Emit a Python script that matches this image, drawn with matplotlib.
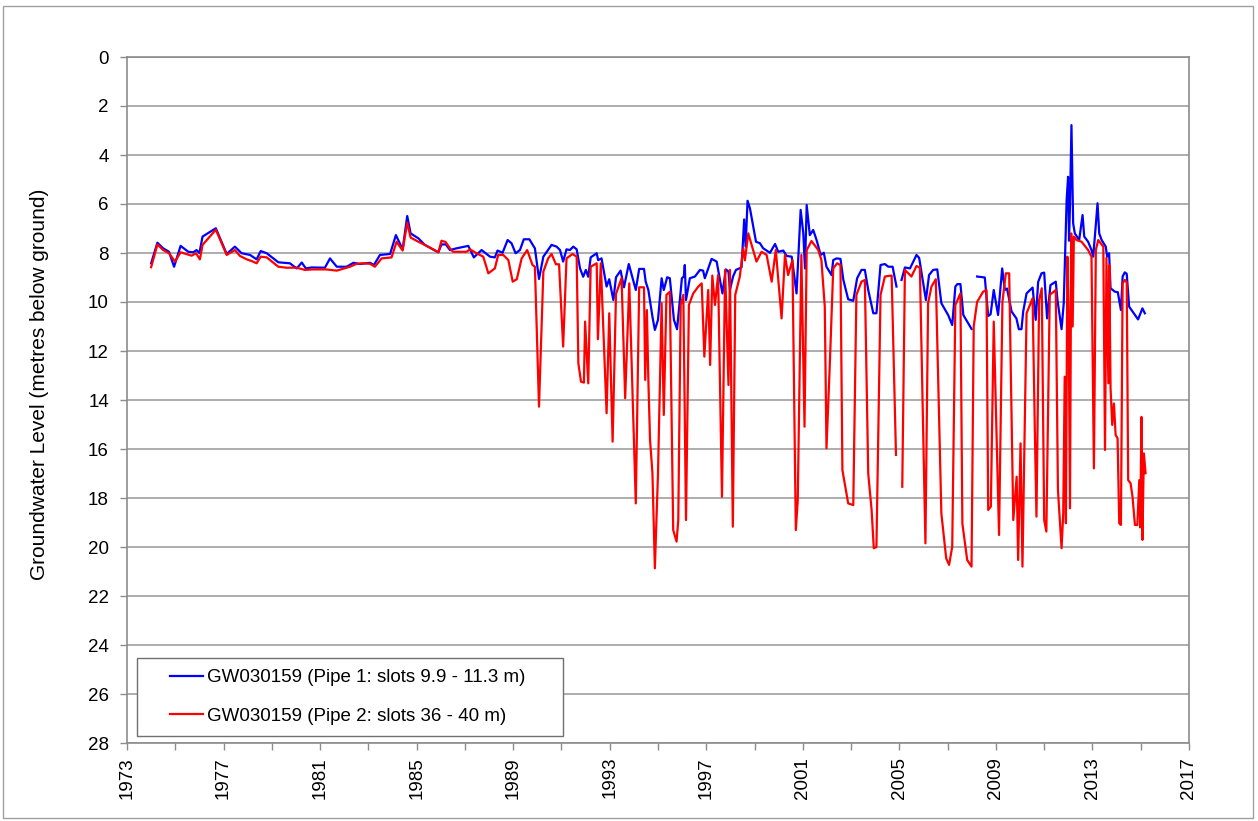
import numpy as np
import matplotlib
matplotlib.use("Agg")
import matplotlib.pyplot as plt
from matplotlib.patches import Rectangle
from matplotlib.legend_handler import HandlerLine2D

nan = np.nan

# Pipe 1 (shallow) - decimal year / metres below ground
pipe1_year = [
    1974.0, 1974.26, 1974.5, 1974.74, 1974.95, 1975.22, 1975.54, 1975.75, 1975.88, 1976.0,
    1976.13, 1976.68, 1977.13, 1977.47, 1977.75, 1978.1, 1978.37, 1978.54, 1978.79, 1979.27,
    1979.75, 1980.03, 1980.24, 1980.41, 1980.65, 1981.2, 1981.41, 1981.69, 1982.1, 1982.38,
    1982.65, 1983.07, 1983.23, 1983.48, 1983.9, 1984.14, 1984.42, 1984.61, 1984.75, 1985.07,
    1985.34, 1985.9, 1986.03, 1986.21, 1986.38, 1986.65, 1987.14, 1987.37, 1987.69, 1988.04,
    1988.24, 1988.35, 1988.56, 1988.77, 1988.93, 1989.1, 1989.28, 1989.44, 1989.67, 1989.9,
    1990.07, 1990.25, 1990.59, 1990.8, 1990.94, 1991.07, 1991.21, 1991.35, 1991.49, 1991.63,
    1991.77, 1991.9, 1992.01, 1992.11, 1992.21, 1992.46, 1992.52, 1992.66, 1992.87, 1992.98,
    1993.15, 1993.26, 1993.45, 1993.59, 1993.79, 1994.08, 1994.22, 1994.42, 1994.49, 1994.6,
    1994.77, 1994.87, 1995.0, 1995.15, 1995.24, 1995.38, 1995.49, 1995.66, 1995.79, 1995.99,
    1996.07, 1996.11, 1996.16, 1996.32, 1996.53, 1996.74, 1996.87, 1996.94, 1997.22, 1997.43,
    1997.67, 1997.81, 1997.92, 1997.98, 1998.11, 1998.23, 1998.46, 1998.57, 1998.63, 1998.71,
    1998.81, 1999.06, 1999.22, 1999.36, 1999.64, 1999.85, 1999.98, 2000.19, 2000.33, 2000.54,
    2000.74, 2000.91, 2001.02, 2001.09, 2001.16, 2001.29, 2001.43, 2001.57, 2001.74, 2001.87,
    2001.98, 2002.19, 2002.26, 2002.4, 2002.56, 2002.68, 2002.88, 2003.09, 2003.25, 2003.43,
    2003.57, 2003.71, 2003.92, 2004.05, 2004.22, 2004.4, 2004.54, 2004.72, 2004.88, 2005.0,
    2005.09, 2005.23, 2005.44, 2005.71, 2005.82, 2006.1, 2006.23, 2006.4, 2006.57, 2006.74,
    2007.02, 2007.19, 2007.32, 2007.4, 2007.53, 2007.65, 2007.85, 2007.99, 2008.1, 2008.22,
    2008.54, 2008.68, 2008.78, 2008.91, 2009.09, 2009.26, 2009.37, 2009.46, 2009.65, 2009.85,
    2009.95, 2010.06, 2010.13, 2010.27, 2010.52, 2010.65, 2010.75, 2010.89, 2011.0, 2011.12,
    2011.26, 2011.48, 2011.55, 2011.72, 2011.81, 2011.93, 2011.99, 2012.03, 2012.07, 2012.13,
    2012.2, 2012.27, 2012.45, 2012.59, 2012.66, 2012.82, 2012.96, 2013.03, 2013.1, 2013.21,
    2013.28, 2013.38, 2013.55, 2013.61, 2013.69, 2013.75, 2013.93, 2014.05, 2014.18, 2014.25,
    2014.34, 2014.42, 2014.52, 2014.89, 2014.99, 2015.07, 2015.17,
]
pipe1_level = [
    8.42, 7.58, 7.81, 7.95, 8.56, 7.71, 7.95, 7.97, 7.88, 8.0,
    7.33, 6.99, 8.04, 7.74, 8.01, 8.08, 8.26, 7.92, 8.01, 8.38,
    8.42, 8.63, 8.39, 8.63, 8.59, 8.6, 8.22, 8.56, 8.56, 8.4,
    8.45, 8.4, 8.49, 8.08, 8.04, 7.27, 7.85, 6.49, 7.2, 7.4,
    7.67, 7.97, 7.65, 7.65, 7.88, 7.81, 7.71, 8.18, 7.88, 8.15,
    8.18, 7.9, 7.99, 7.47, 7.6, 8.01, 7.88, 7.44, 7.44, 7.81,
    9.06, 8.15, 7.67, 7.74, 7.88, 8.35, 7.85, 7.88, 7.74, 7.85,
    8.63, 8.97, 8.69, 8.97, 8.18, 8.01, 8.29, 8.22, 9.37, 9.07,
    9.92, 8.99, 8.72, 9.4, 8.45, 9.51, 8.65, 8.65, 9.17, 9.51,
    10.6, 11.14, 10.73, 9.03, 9.51, 8.99, 9.03, 10.73, 11.11, 9.03,
    8.96, 8.49, 9.92, 9.03, 8.96, 8.69, 8.72, 9.03, 8.24, 8.35,
    9.65, 8.67, 8.76, 9.51, 8.96, 8.69, 8.59, 6.63, 7.74, 5.87,
    6.18, 7.54, 7.6, 7.81, 7.99, 7.63, 7.95, 7.9, 8.12, 8.15,
    9.65, 6.24, 7.2, 8.63, 6.04, 7.27, 7.06, 7.47, 8.08, 7.99,
    8.56, 8.9, 8.29, 8.22, 8.24, 9.1, 9.89, 9.95, 9.03, 8.69,
    8.69, 9.51, 10.46, 10.46, 8.49, 8.45, 8.56, 8.56, 9.37, nan,
    9.1, 8.59, 8.63, 8.08, 8.2, 9.92, 8.9, 8.69, 8.67, 10.05,
    10.53, 10.94, 9.37, 9.27, 9.27, 10.53, 10.87, 11.1, nan, 8.96,
    9.0, 10.57, 10.5, 9.51, 10.53, 8.63, 9.51, 9.45, 10.39, 10.67,
    11.11, 11.11, 10.39, 9.65, 9.41, 10.73, 9.18, 8.83, 8.8, 10.67,
    9.31, 9.17, 9.92, 11.11, 10.05, 5.84, 4.89, 7.5, 6.0, 2.78,
    6.79, 7.2, 7.47, 6.45, 7.33, 7.54, 7.88, 8.15, 7.33, 5.97,
    7.2, 7.47, 7.74, 8.15, 8.01, 9.44, 9.58, 9.6, 10.33, 8.96,
    8.79, 8.85, 10.19, 10.71, 10.46, 10.26, 10.46,
]

# Pipe 2 (deep)
pipe2_year = [
    1974.0, 1974.26, 1974.5, 1974.74, 1974.99, 1975.22, 1975.68, 1975.86, 1976.02, 1976.13,
    1976.68, 1977.13, 1977.47, 1977.68, 1977.96, 1978.17, 1978.37, 1978.54, 1978.79, 1979.27,
    1979.6, 1980.03, 1980.37, 1980.7, 1981.25, 1981.69, 1982.24, 1982.51, 1982.79, 1983.07,
    1983.27, 1983.55, 1983.96, 1984.17, 1984.42, 1984.61, 1984.75, 1985.07, 1985.34, 1985.9,
    1986.03, 1986.2, 1986.38, 1986.51, 1987.07, 1987.21, 1987.48, 1987.76, 1987.97, 1988.24,
    1988.38, 1988.59, 1988.8, 1988.98, 1989.15, 1989.35, 1989.58, 1989.8, 1989.9, 1990.07,
    1990.25, 1990.45, 1990.59, 1990.77, 1990.9, 1991.07, 1991.21, 1991.46, 1991.63, 1991.7,
    1991.81, 1991.93, 1991.98, 1992.11, 1992.21, 1992.46, 1992.51, 1992.63, 1992.87, 1992.98,
    1993.12, 1993.26, 1993.49, 1993.64, 1993.81, 1994.08, 1994.22, 1994.42, 1994.47, 1994.54,
    1994.6, 1994.67, 1994.77, 1994.87, 1995.0, 1995.15, 1995.24, 1995.35, 1995.49, 1995.63,
    1995.77, 1995.84, 1995.94, 1996.05, 1996.16, 1996.28, 1996.46, 1996.67, 1996.81, 1996.92,
    1997.08, 1997.16, 1997.25, 1997.36, 1997.49, 1997.65, 1997.78, 1997.92, 1997.98, 1998.1,
    1998.2, 1998.39, 1998.53, 1998.6, 1998.74, 1999.08, 1999.29, 1999.5, 1999.71, 1999.88,
    2000.12, 2000.26, 2000.39, 2000.57, 2000.71, 2000.79, 2000.94, 2001.07, 2001.16, 2001.36,
    2001.64, 2001.77, 2001.91, 2001.98, 2002.12, 2002.26, 2002.42, 2002.56, 2002.64, 2002.88,
    2003.09, 2003.22, 2003.43, 2003.57, 2003.71, 2003.85, 2003.94, 2004.05, 2004.22, 2004.4,
    2004.68, 2004.86, 2005.0, 2005.12, 2005.23, 2005.5, 2005.71, 2005.85, 2006.08, 2006.19,
    2006.33, 2006.51, 2006.74, 2006.94, 2007.06, 2007.19, 2007.32, 2007.53, 2007.61, 2007.81,
    2007.99, 2008.08, 2008.22, 2008.47, 2008.61, 2008.68, 2008.79, 2008.91, 2009.13, 2009.27,
    2009.41, 2009.55, 2009.72, 2009.86, 2009.92, 2010.02, 2010.1, 2010.27, 2010.52, 2010.61,
    2010.68, 2010.79, 2010.9, 2011.0, 2011.09, 2011.23, 2011.48, 2011.57, 2011.72, 2011.79,
    2011.85, 2011.9, 2011.96, 2012.01, 2012.07, 2012.12, 2012.18, 2012.23, 2012.34, 2012.55,
    2012.82, 2012.96, 2013.06, 2013.14, 2013.24, 2013.45, 2013.52, 2013.58, 2013.66, 2013.7,
    2013.75, 2013.82, 2013.89, 2013.96, 2014.04, 2014.11, 2014.18, 2014.25, 2014.34, 2014.42,
    2014.48, 2014.58, 2014.66, 2014.76, 2014.86, 2014.94, 2014.98, 2015.03, 2015.07, 2015.13,
    2015.2,
]
pipe2_level = [
    8.58, 7.65, 7.88, 8.01, 8.35, 7.97, 8.11, 8.01, 8.26, 7.67,
    7.05, 8.08, 7.88, 8.12, 8.26, 8.33, 8.42, 8.15, 8.18, 8.56,
    8.6, 8.6, 8.69, 8.67, 8.67, 8.72, 8.56, 8.44, 8.42, 8.44,
    8.56, 8.22, 8.18, 7.54, 7.9, 6.76, 7.37, 7.54, 7.67, 7.97,
    7.5, 7.55, 7.81, 7.95, 7.95, 7.85, 8.01, 8.15, 8.83, 8.63,
    8.08, 8.08, 8.29, 9.17, 9.07, 8.22, 7.88, 8.49, 8.56, 14.27,
    8.76, 8.22, 8.04, 8.46, 8.46, 11.82, 8.22, 8.04, 8.15, 12.5,
    13.25, 13.29, 10.8, 13.32, 8.56, 8.42, 11.52, 8.42, 14.54, 10.46,
    15.7, 9.67, 9.03, 13.93, 9.24, 18.22, 9.4, 9.4, 13.18, 10.33,
    13.18, 15.63, 16.99, 20.87, 17.0, 10.05, 14.61, 9.71, 9.58, 19.31,
    19.78, 18.9, 10.12, 9.71, 18.9, 10.12, 9.65, 9.37, 9.24, 12.23,
    9.51, 12.57, 8.92, 10.12, 8.9, 17.95, 8.69, 13.39, 8.69, 19.17,
    9.71, 8.96, 7.81, 8.3, 7.2, 8.35, 7.95, 8.08, 9.17, 7.88,
    10.67, 8.08, 8.9, 8.29, 19.31, 18.1, 8.08, 15.09, 7.88, 7.51,
    7.88, 8.29, 10.19, 15.97, 12.5, 8.63, 8.42, 8.49, 16.86, 18.22,
    18.29, 9.71, 9.17, 9.1, 17.0, 18.49, 20.05, 20.0, 9.71, 8.96,
    8.92, 16.24, nan, 17.54, 8.69, 8.96, 8.53, 8.6, 19.85, 10.05,
    9.37, 9.07, 18.63, 20.46, 20.73, 19.99, 10.12, 9.65, 19.04, 20.53,
    20.8, 11.0, 10.0, 9.58, 9.51, 18.49, 18.35, 10.8, 19.51, 10.0,
    8.83, 8.83, 18.9, 17.13, 20.53, 15.77, 20.8, 10.46, 9.85, 15.09,
    18.76, 9.92, 9.44, 18.9, 19.37, 9.71, 9.51, 17.67, 20.05, 18.63,
    13.05, 19.03, 8.15, 10.33, 18.42, 7.2, 11.0, 7.33, 7.47, 7.54,
    7.88, 8.15, 16.79, 7.88, 7.47, 7.74, 16.04, 8.2, 13.32, 8.5,
    13.52, 15.02, 14.14, 15.43, 15.56, 19.03, 19.1, 9.24, 9.1, 9.2,
    17.27, 17.4, 17.95, 19.1, 19.1, 17.27, 19.2, 14.69, 19.71, 16.18,
    16.99,
]

labels = ["GW030159 (Pipe 1: slots 9.9 - 11.3 m)",
          "GW030159 (Pipe 2: slots 36 - 40 m)"]
year_ticks = list(range(1973, 2018, 4))
depth_ticks = list(range(0, 29, 2))

plt.rcParams['font.family'] = ['Liberation Sans', 'DejaVu Sans']
FS = 13.5
GREY = '#8c8c8c'

fig = plt.figure(figsize=(12.58, 8.21), dpi=100)
ax = fig.add_axes([127 / 1258, 1 - 743 / 821, 1062 / 1258, 686 / 821])

ax.plot(pipe1_year, pipe1_level, color='#0000ff', lw=1.6, label=labels[0], zorder=3)
ax.plot(pipe2_year, pipe2_level, color='#ff0000', lw=1.6, label=labels[1], zorder=3)

ax.set_xlim(1973, 2017)
ax.set_ylim(28, 0)
ax.set_xticks(year_ticks)
ax.set_xticklabels([str(y) for y in year_ticks], rotation=90, fontsize=FS)
ax.set_xticks(list(range(1975, 2017, 4)), minor=True)
ax.set_yticks(depth_ticks)
ax.set_yticklabels([str(d) for d in depth_ticks], fontsize=FS)

ax.yaxis.grid(True, color='#a0a0a0', lw=1.2, zorder=0)
ax.tick_params(axis='both', which='both', direction='out', color=GREY, length=5, width=1)
ax.tick_params(axis='y', pad=8)
ax.tick_params(axis='x', pad=5)
for s in ax.spines.values():
    s.set_color(GREY)
    s.set_linewidth(1.2)

ax.set_ylabel('Groundwater Level (metres below ground)', fontsize=15)
ax.yaxis.set_label_coords(-0.073, 0.523)

leg = ax.legend(loc='lower left', bbox_to_anchor=(0.0094, 0.0102, 0.401, 0.12),
                mode='expand', borderaxespad=0, fontsize=FS, fancybox=False,
                framealpha=1, edgecolor='#707070', borderpad=0.6,
                handlelength=2.93, handletextpad=0.2, labelspacing=1.13,
                handler_map={plt.Line2D: HandlerLine2D(xpad=1.17)})
leg.get_frame().set_linewidth(1.0)
leg.set_zorder(5)

fig.patches.append(Rectangle((3 / 1258, 3 / 821), 1250 / 1258, 812 / 821,
                             transform=fig.transFigure, fill=False,
                             edgecolor='#a0a0a0', lw=1.0))

fig.savefig('out.png', dpi=100)
